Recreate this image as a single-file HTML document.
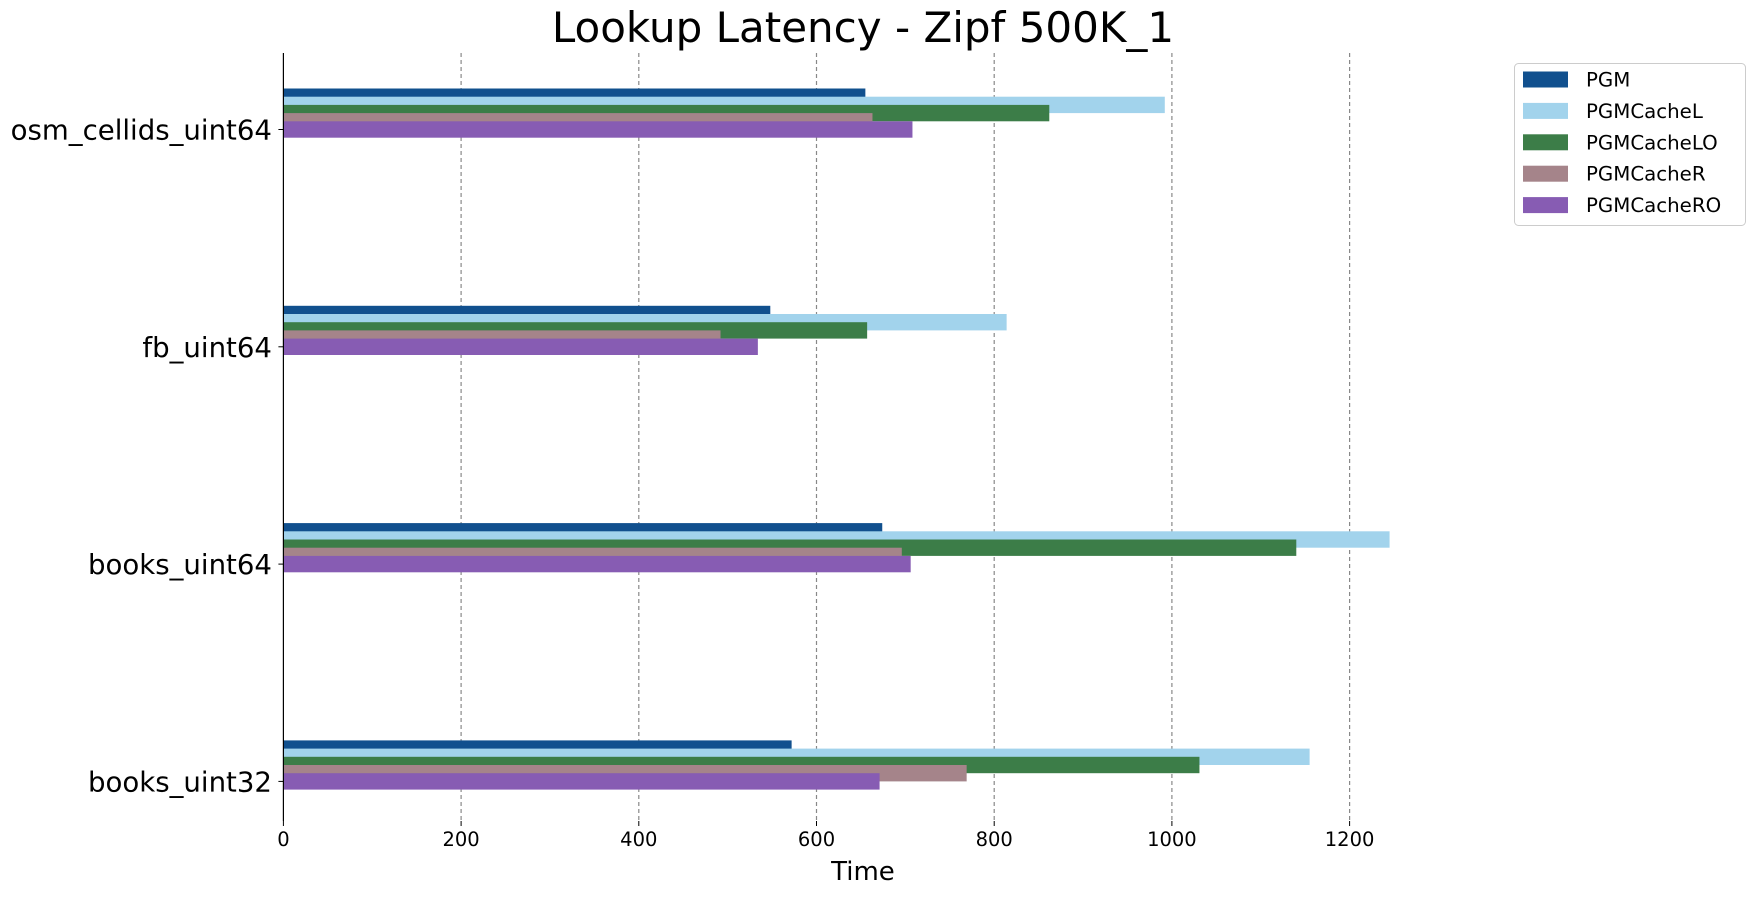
<!DOCTYPE html>
<html><head><meta charset="utf-8"><style>
html,body{margin:0;padding:0;background:#fff;}
svg text{font-family:"DejaVu Sans","Liberation Sans",sans-serif;}
</style></head><body>
<svg id="chart" width="1756" height="896" viewBox="0 0 1756 896" xmlns="http://www.w3.org/2000/svg">
<text x="863" y="42" font-size="42" text-anchor="middle">Lookup Latency - Zipf 500K_1</text>
<g id="grid"></g><g id="bars"></g><g id="axes"></g><g id="legend"></g>
<text x="863" y="880" font-size="26" text-anchor="middle">Time</text>
</svg>
<script>
const categories = ["osm_cellids_uint64","fb_uint64","books_uint64","books_uint32"];
const seriesNames = ["PGM","PGMCacheL","PGMCacheLO","PGMCacheR","PGMCacheRO"];
const seriesColors = ["#11508e","#a2d3ec","#3c7d48","#a5848a","#875cb3"];
const valsPGM = [655,548,674,572];
const valsL = [992,814,1245,1155];
const valsLO = [862,657,1140,1031];
const valsR = [663,492,696,769];
const valsRO = [708,534,706,671];
const xTicks = [0,200,400,600,800,1000,1200];

const NS="http://www.w3.org/2000/svg";
const series=[valsPGM,valsL,valsLO,valsR,valsRO];
const plotX0=283.4, pxPer=0.8885, plotTop=53, plotBottom=821;
function xs(v){return plotX0+v*pxPer;}
function yc(i){return 129.5+i*217.3;}
const unitH=8.2;
function mk(tag,attrs,parent){const e=document.createElementNS(NS,tag);for(const k in attrs)e.setAttribute(k,attrs[k]);document.getElementById(parent).appendChild(e);return e;}

xTicks.forEach(t=>{
  if(t>0){const l=mk('line',{x1:xs(t),x2:xs(t),y1:plotTop,y2:plotBottom,stroke:'#888','stroke-width':1.2,'stroke-dasharray':'4,3'},'grid');
  
  }
  const tk=mk('line',{x1:xs(t),x2:xs(t),y1:plotBottom,y2:plotBottom+5,stroke:'#000','stroke-width':1},'axes');
  
  
  const tx=mk('text',{x:xs(t),y:846,'font-size':19.5,'text-anchor':'middle'},'axes');
  tx.textContent=t;
  
  
});
categories.forEach((c,i)=>{
  const cy=yc(i);
  series.forEach((s,j)=>{
    const r=mk('rect',{x:plotX0,y:cy-5*unitH+j*unitH,width:xs(s[i])-plotX0,height:2*unitH,fill:seriesColors[j]},'bars');
    
    
  });
  const tk=mk('line',{x1:plotX0-5,x2:plotX0,y1:cy,y2:cy,stroke:'#000','stroke-width':1},'axes');
  
  
  const tx=mk('text',{x:272,y:cy+10,'font-size':27.6,'text-anchor':'end'},'axes');
  tx.textContent=c;
  
  
});
const sp=mk('line',{x1:plotX0,x2:plotX0,y1:plotTop,y2:plotBottom,stroke:'#000','stroke-width':1.2},'axes');



const lb=mk('rect',{x:1514.5,y:63.5,width:231,height:162,rx:4,fill:'#fff',stroke:'#ccc','stroke-width':1},'legend');


seriesNames.forEach((n,j)=>{
  const cy=79.5+j*31.4;
  const p=mk('rect',{x:1523,y:cy-8,width:45,height:16,fill:seriesColors[j]},'legend');
  
  
  const t=mk('text',{x:1586,y:cy+7,'font-size':19.8},'legend');
  t.textContent=n;
  
  
});
</script>
</body></html>
